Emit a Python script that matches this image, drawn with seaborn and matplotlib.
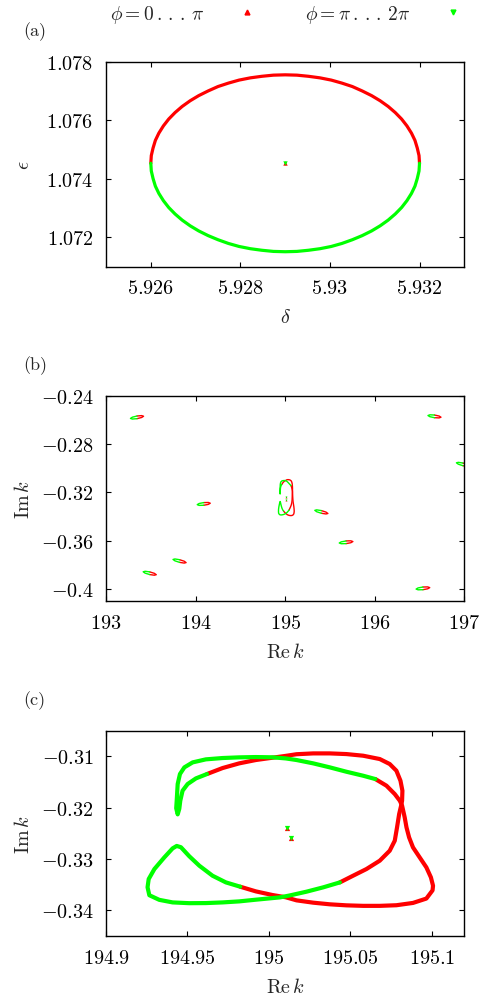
import numpy as np
import pandas as pd
import matplotlib
matplotlib.use("Agg")
import matplotlib.pyplot as plt
import seaborn as sns
from matplotlib.lines import Line2D

# ---------------- data ----------------
# panel (a): delta / epsilon loop
a_red_x = [5.932, 5.931989, 5.93195, 5.931898, 5.93182, 5.931719, 5.9316, 5.931458, 5.9313, 5.931121,
           5.93093, 5.930721, 5.9305, 5.930268, 5.93003, 5.929776, 5.92952, 5.929262, 5.929,
           5.928738, 5.92848, 5.928224, 5.92797, 5.927732, 5.9275, 5.927279, 5.92707, 5.926879,
           5.9267, 5.926542, 5.9264, 5.926281, 5.92618, 5.926102, 5.92605, 5.926011, 5.926]
a_red_y = [1.07453, 1.074793, 1.07505, 1.075312, 1.07556, 1.075806, 1.07604, 1.076262, 1.07647, 1.076665,
           1.07684, 1.076999, 1.07715, 1.077267, 1.07737, 1.077447, 1.0775, 1.077539, 1.07755,
           1.077539, 1.0775, 1.077447, 1.07737, 1.077267, 1.07715, 1.076999, 1.07684, 1.076665,
           1.07647, 1.076262, 1.07604, 1.075806, 1.07556, 1.075312, 1.07505, 1.074793, 1.07453]
a_green_x = [5.926, 5.926011, 5.92605, 5.926102, 5.92618, 5.926281, 5.9264, 5.926542, 5.9267, 5.926879,
             5.92707, 5.927279, 5.9275, 5.927732, 5.92797, 5.928224, 5.92848, 5.928738, 5.929,
             5.929262, 5.92952, 5.929776, 5.93003, 5.930268, 5.9305, 5.930721, 5.93093, 5.931121,
             5.9313, 5.931458, 5.9316, 5.931719, 5.93182, 5.931898, 5.93195, 5.931989, 5.932]
a_green_y = [1.07453, 1.074267, 1.07401, 1.073748, 1.0735, 1.073254, 1.07302, 1.072798, 1.07259, 1.072395,
             1.07222, 1.072061, 1.07192, 1.071793, 1.07169, 1.071613, 1.07156, 1.071521, 1.07151,
             1.071521, 1.07156, 1.071613, 1.07169, 1.071793, 1.07192, 1.072061, 1.07222, 1.072395,
             1.07259, 1.072798, 1.07302, 1.073254, 1.0735, 1.073748, 1.07401, 1.074267, 1.07453]
a_center_x = [5.929]
a_center_y = [1.07453]

# panel (c) (also centre of panel (b)): Re k / Im k trajectory
c_r1_x = [194.962, 194.9716, 194.9818, 194.992, 195.0022, 195.0104, 195.017, 195.0272, 195.0374,
          195.0476, 195.0579, 195.0681, 195.0742, 195.0783, 195.0808, 195.082, 195.0818, 195.0812,
          195.0800, 195.0787, 195.0773, 195.0742, 195.0681, 195.0599, 195.0517, 195.0436]
c_r1_y = [-0.31344, -0.31227, -0.31136, -0.31071, -0.31026, -0.30990, -0.30958, -0.30942, -0.30942,
          -0.30955, -0.30987, -0.31052, -0.31149, -0.31279, -0.31474, -0.31669, -0.31864, -0.31961,
          -0.32123, -0.32383, -0.32643, -0.32838, -0.33032, -0.33195, -0.33325, -0.33455]
c_g2_x = [195.0436, 195.0333, 195.0231, 195.013, 195.0068, 194.992, 194.9818, 194.9716, 194.9613,
          194.9511, 194.9409, 194.9327, 194.9266, 194.9255, 194.9262, 194.9297, 194.9358, 194.9409,
          194.9434, 194.946, 194.9511, 194.9573, 194.9654, 194.9736, 194.9824]
c_g2_y = [-0.33455, -0.33552, -0.33636, -0.33708, -0.33747, -0.33792, -0.33825, -0.33845, -0.33858,
          -0.3386, -0.33845, -0.33795, -0.33705, -0.3355, -0.3339, -0.33195, -0.32968, -0.32792,
          -0.32745, -0.3277, -0.32945, -0.3313, -0.33325, -0.33455, -0.33539]
c_r2_x = [194.9824, 194.992, 195.0022, 195.0104, 195.017, 195.0272, 195.0374, 195.0476, 195.0579,
          195.0681, 195.0783, 195.0885, 195.0967, 195.1005, 195.1008, 195.0995, 195.0967, 195.0926,
          195.0885, 195.0861, 195.0845, 195.0834, 195.0818, 195.0804, 195.0773, 195.0722, 195.0654]
c_r2_y = [-0.33539, -0.3363, -0.33701, -0.33745, -0.33805, -0.3385, -0.33882, -0.33902, -0.33912,
          -0.33912, -0.339, -0.33855, -0.3377, -0.3361, -0.3352, -0.33357, -0.33162, -0.32968,
          -0.32773, -0.32578, -0.32383, -0.32188, -0.31961, -0.31864, -0.31734, -0.31571, -0.31442]
c_g1_x = [194.962, 194.9552, 194.9501, 194.947, 194.9456, 194.9450, 194.9440, 194.9431, 194.9434,
          194.9440, 194.9454, 194.9481, 194.9532, 194.9613, 194.9716, 194.9818, 194.992, 195.0022,
          195.0104, 195.017, 195.0272, 195.0374, 195.0476, 195.0579, 195.0654]
c_g1_y = [-0.31344, -0.31429, -0.31539, -0.31669, -0.31864, -0.3202, -0.3213, -0.3201, -0.31864,
          -0.31539, -0.31344, -0.31214, -0.31117, -0.31058, -0.31032, -0.31019, -0.31013, -0.31018,
          -0.31040, -0.31071, -0.31136, -0.31214, -0.31299, -0.31377, -0.31442]
c_center_x = [195.0113, 195.0135]
c_center_y = [-0.32396, -0.32591]

# panel (b): other small loops (green half, red half), list of (x, y) points
b_loops_green = [
    [(193.346, -0.2568), (193.2944, -0.25776), (193.273, -0.2588), (193.2944, -0.25932), (193.346, -0.259)],
    [(196.667, -0.256), (196.6154, -0.25582), (196.594, -0.2564), (196.6154, -0.25738), (196.667, -0.2582)],
    [(196.985, -0.2957), (196.9334, -0.2951), (196.912, -0.2955), (196.9334, -0.29666), (196.985, -0.2979)],
    [(194.091, -0.3284), (194.0394, -0.32914), (194.018, -0.3301), (194.0394, -0.3307), (194.091, -0.3306)],
    [(195.404, -0.335), (195.3524, -0.3344), (195.331, -0.3348), (195.3524, -0.33596), (195.404, -0.3372)],
    [(195.68, -0.3601), (195.6263, -0.36084), (195.604, -0.3618), (195.6263, -0.3624), (195.68, -0.3623)],
    [(193.821, -0.3756), (193.7694, -0.375), (193.748, -0.3754), (193.7694, -0.37656), (193.821, -0.3778)],
    [(193.488, -0.3857), (193.4364, -0.38517), (193.415, -0.3856), (193.4364, -0.38673), (193.488, -0.3879)],
    [(196.538, -0.3982), (196.4843, -0.39894), (196.462, -0.3999), (196.4843, -0.4005), (196.538, -0.4004)],
]
b_loops_red = [
    [(193.346, -0.259), (193.3976, -0.25804), (193.419, -0.257), (193.3976, -0.25648), (193.346, -0.2568)],
    [(196.667, -0.2582), (196.7186, -0.25838), (196.74, -0.2578), (196.7186, -0.25682), (196.667, -0.256)],
    [(196.985, -0.2979), (197.0366, -0.2985), (197.058, -0.2981), (197.0366, -0.29694), (196.985, -0.2957)],
    [(194.091, -0.3306), (194.1426, -0.32986), (194.164, -0.3289), (194.1426, -0.3283), (194.091, -0.3284)],
    [(195.404, -0.3372), (195.4556, -0.3378), (195.477, -0.3374), (195.4556, -0.33624), (195.404, -0.335)],
    [(195.68, -0.3623), (195.7337, -0.36156), (195.756, -0.3606), (195.7337, -0.36), (195.68, -0.3601)],
    [(193.821, -0.3778), (193.8726, -0.3784), (193.894, -0.378), (193.8726, -0.37684), (193.821, -0.3756)],
    [(193.488, -0.3879), (193.5396, -0.38843), (193.561, -0.388), (193.5396, -0.38687), (193.488, -0.3857)],
    [(196.538, -0.4004), (196.5917, -0.39966), (196.614, -0.3987), (196.5917, -0.3981), (196.538, -0.3982)],
]

# ticks
a_xticks = ["5.926", "5.928", "5.93", "5.932"]
a_yticks = ["1.072", "1.074", "1.076", "1.078"]
b_xticks = ["193", "194", "195", "196", "197"]
b_yticks = ["-0.4", "-0.36", "-0.32", "-0.28", "-0.24"]
c_xticks = ["194.9", "194.95", "195", "195.05", "195.1"]
c_yticks = ["-0.34", "-0.33", "-0.32", "-0.31"]
legend_labels = [r"$\phi = 0\,.\,.\,.\,\pi$", r"$\phi = \pi\,.\,.\,.\,2\pi$"]
panel_labels = ["(a)", "(b)", "(c)"]

# ---------------- style ----------------
RED = "#ff0000"
GREEN = "#00ff00"
sns.set_theme(style="ticks")
plt.rcParams.update({
    "font.family": "serif",
    "font.serif": ["cmr10", "DejaVu Serif"],
    "mathtext.fontset": "cm",
    "axes.unicode_minus": False,
    "axes.formatter.use_mathtext": True,
    "axes.linewidth": 1.0,
    "axes.edgecolor": "black",
    "xtick.direction": "in",
    "ytick.direction": "in",
    "xtick.top": True,
    "ytick.right": True,
})
FS = 14.5


def segdf(segs):
    frames = []
    for i, (phase, xs, ys) in enumerate(segs):
        frames.append(pd.DataFrame({"x": xs, "y": ys, "seg": i, "phase": phase}))
    return pd.concat(frames, ignore_index=True)


def draw(ax, segs, lw):
    df = segdf(segs)
    sns.lineplot(data=df, x="x", y="y", hue="phase", hue_order=["red", "green"],
                 palette={"red": RED, "green": GREEN}, units="seg", estimator=None,
                 sort=False, lw=lw, legend=False, ax=ax)


def centers(ax, xs, ys, s):
    sns.scatterplot(x=xs, y=ys, marker="^", color=RED, s=s, linewidth=0, ax=ax, zorder=3)
    sns.scatterplot(x=xs, y=ys, marker="v", color=GREEN, s=s, linewidth=0, ax=ax, zorder=4)


def style_ax(ax, xt, yt, xlim, ylim, xlabel, ylabel):
    ax.set_xlim(*xlim)
    ax.set_ylim(*ylim)
    ax.set_xticks([float(t) for t in xt], labels=[f"${t}$" for t in xt])
    ax.set_yticks([float(t) for t in yt], labels=[f"${t}$" for t in yt])
    ax.tick_params(axis="both", which="major", length=3.6, width=0.8, labelsize=FS,
                   direction="in", top=True, right=True, colors="black")
    ax.tick_params(axis="x", pad=9)
    ax.tick_params(axis="y", pad=9)
    ax.set_xlabel(xlabel, fontsize=FS)
    ax.set_ylabel(ylabel, fontsize=FS)
    ax.xaxis.set_label_coords(0.5, -0.2)
    ax.yaxis.set_label_coords(-0.204, 0.5)
    for sp in ax.spines.values():
        sp.set_color("black")
        sp.set_linewidth(1.0)


fig = plt.figure(figsize=(5.02, 10.04), dpi=100)
axA = fig.add_axes([0.2112, 0.7334, 0.7137, 0.2042])
axB = fig.add_axes([0.2112, 0.4001, 0.7137, 0.2048])
axC = fig.add_axes([0.2112, 0.0667, 0.7137, 0.2045])

# (a)
draw(axA, [("red", a_red_x, a_red_y), ("green", a_green_x, a_green_y)], 2.3)
centers(axA, a_center_x, a_center_y, 10)
style_ax(axA, a_xticks, a_yticks, (5.925, 5.933), (1.071, 1.078), r"$\delta$", r"$\epsilon$")

# (b)
segs_b = []
for lp in b_loops_red:
    segs_b.append(("red", [p[0] for p in lp], [p[1] for p in lp]))
segs_b += [("red", c_r1_x, c_r1_y), ("red", c_r2_x, c_r2_y)]
for lp in b_loops_green:
    segs_b.append(("green", [p[0] for p in lp], [p[1] for p in lp]))
segs_b += [("green", c_g1_x, c_g1_y), ("green", c_g2_x, c_g2_y)]
draw(axB, segs_b, 1.0)
centers(axB, c_center_x, c_center_y, 2)
style_ax(axB, b_xticks, b_yticks, (193, 197), (-0.41, -0.24), r"$\mathrm{Re}\,k$", r"$\mathrm{Im}\,k$")

# (c)
draw(axC, [("red", c_r1_x, c_r1_y), ("red", c_r2_x, c_r2_y),
           ("green", c_g1_x, c_g1_y), ("green", c_g2_x, c_g2_y)], 3.0)
centers(axC, c_center_x, c_center_y, 14)
style_ax(axC, c_xticks, c_yticks, (194.9, 195.12), (-0.345, -0.305), r"$\mathrm{Re}\,k$", r"$\mathrm{Im}\,k$")

# legend
handles = [Line2D([], [], marker="^", color=RED, ls="none", ms=3.5),
           Line2D([], [], marker="v", color=GREEN, ls="none", ms=3.5)]
fig.legend(handles, legend_labels, loc="center left", bbox_to_anchor=(0.219, 0.985), ncol=2,
           frameon=False, markerfirst=False, handlelength=4.0, handletextpad=0.2,
           columnspacing=1.0, borderpad=0, borderaxespad=0, fontsize=14)

# panel labels
for lab, yy in zip(panel_labels, [32, 366, 701]):
    fig.text(23 / 502, 1 - yy / 1004, lab, fontsize=13, va="center", ha="left")

fig.savefig("out.png", dpi=100, facecolor="white")
